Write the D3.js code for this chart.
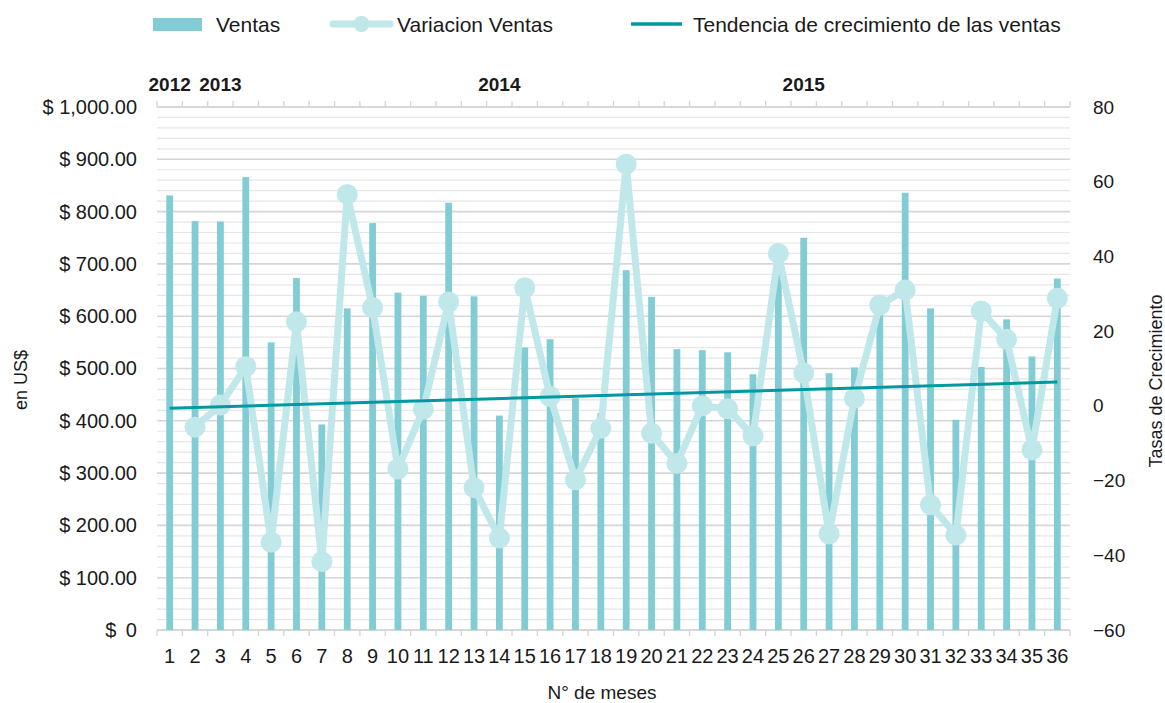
<!DOCTYPE html>
<html>
<head>
<meta charset="utf-8">
<script src="https://cdn.jsdelivr.net/npm/d3@7/dist/d3.min.js"></script>
<style>
  html, body { margin: 0; padding: 0; background: #ffffff; }
  svg text { font-family: "Liberation Sans", Arial, sans-serif; fill: #1a1a1a; }
</style>
</head>
<body>
<svg id="chart" width="1165" height="703"></svg>
<script>
// ---------- data ----------
const months = ["1","2","3","4","5","6","7","8","9","10","11","12","13","14","15","16","17","18",
                "19","20","21","22","23","24","25","26","27","28","29","30","31","32","33","34","35","36"];
const ventas = [831,782,781,866,550,673,393,615,778,645,639,817,638,410,540,556,443,415,
                688,637,537,535,531,489,689,750,491,502,638,836,615,402,503,594,523,672];
const variacion = [null,-5.7,0.2,10.5,-36.5,22.5,-41.7,56.6,26.3,-16.9,-0.9,27.8,-21.9,-35.4,31.6,2.5,-19.8,-6.0,
                   64.7,-7.3,-15.4,0.0,-0.8,-8.0,40.8,8.8,-34.3,2.0,27.0,31.0,-26.5,-34.6,25.4,17.8,-11.8,28.8];
const trendMonths = ["1","36"];
const trendVentas = [424, 474];
const yearMonths = ["1","3","14","26"];
const yearNames = ["2012","2013","2014","2015"];
const leftTicks = [0,100,200,300,400,500,600,700,800,900,1000];
const rightTicks = [-60,-40,-20,0,20,40,60,80];

// ---------- layout ----------
const L = 157, R = 1070, T = 107, B = 630;
const barColor = "#82cdd5", lineColor = "#c0e7e9", trendColor = "#0099a1";
const gridMinor = "#e6e6e6", gridMajor = "#d6d6d6", axisColor = "#d4d4d4";

const svg = d3.select("#chart");
const x = d3.scaleBand().domain(months).range([L, R]).padding(0);
const yL = d3.scaleLinear().domain([0, 1000]).range([B, T]);
const yR = d3.scaleLinear().domain([-60, 80]).range([B, T]);
const cx = m => x(m) + x.bandwidth() / 2;

// gridlines
const minor = d3.range(0, 1001, 20);
svg.append("g").selectAll("line").data(minor).join("line")
  .attr("x1", L).attr("x2", R)
  .attr("y1", d => yL(d)).attr("y2", d => yL(d))
  .attr("stroke", d => d % 100 === 0 ? gridMajor : gridMinor)
  .attr("stroke-width", d => d % 100 === 0 ? 1.6 : 1.2);

// top and bottom category axes (lines + boundary ticks)
const bounds = months.map(m => x(m)).concat([R]);
[[T, -6], [B, 6]].forEach(([yy, dir]) => {
  const g = svg.append("g");
  g.append("line").attr("x1", L).attr("x2", R).attr("y1", yy).attr("y2", yy)
    .attr("stroke", axisColor).attr("stroke-width", 1.6);
  g.selectAll("line.t").data(bounds).join("line").attr("class", "t")
    .attr("x1", d => d).attr("x2", d => d).attr("y1", yy).attr("y2", yy + dir)
    .attr("stroke", axisColor).attr("stroke-width", 1.3);
});

// bars
const bw = 6.8;
svg.append("g").selectAll("rect").data(ventas).join("rect")
  .attr("x", (d, i) => cx(months[i]) - bw / 2)
  .attr("width", bw)
  .attr("y", d => yL(d))
  .attr("height", d => B - yL(d))
  .attr("fill", barColor);

// variation line
const pts = variacion.map((v, i) => ({ m: months[i], v })).filter(d => d.v !== null);
svg.append("path").datum(pts)
  .attr("fill", "none").attr("stroke", lineColor).attr("stroke-width", 7)
  .attr("stroke-linejoin", "round")
  .attr("d", d3.line().x(d => cx(d.m)).y(d => yR(d.v)));
svg.append("g").selectAll("circle").data(pts).join("circle")
  .attr("cx", d => cx(d.m)).attr("cy", d => yR(d.v)).attr("r", 10.5)
  .attr("fill", lineColor);

// trend line
svg.append("path").datum(trendMonths.map((m, i) => ({ m, v: trendVentas[i] })))
  .attr("fill", "none").attr("stroke", trendColor).attr("stroke-width", 3)
  .attr("d", d3.line().x(d => cx(d.m)).y(d => yL(d.v)));

// axes labels
const fmtL = v => v === 0 ? "$\u00a0\u20090" : "$ " + d3.format(",.2f")(v);
const gL = svg.append("g").attr("transform", `translate(${L},0)`)
  .call(d3.axisLeft(yL).tickValues(leftTicks).tickFormat(fmtL).tickSize(0).tickPadding(20));
gL.select(".domain").remove();
gL.selectAll("text").style("font-size", "20px").attr("fill", "#1a1a1a");

const gR = svg.append("g").attr("transform", `translate(${R},0)`)
  .call(d3.axisRight(yR).tickValues(rightTicks).tickFormat(d3.format("d")).tickSize(0).tickPadding(23));
gR.select(".domain").remove();
gR.selectAll("text").style("font-size", "19px").attr("fill", "#1a1a1a");

const gB = svg.append("g").attr("transform", `translate(0,${B})`)
  .call(d3.axisBottom(x).tickSize(0).tickPadding(19));
gB.select(".domain").remove();
gB.selectAll("text").style("font-size", "20px").attr("fill", "#1a1a1a");

// year labels on top
const xYear = d3.scaleOrdinal().domain(yearMonths).range(yearMonths.map(cx));
svg.append("g").selectAll("text").data(yearNames).join("text")
  .attr("x", (d, i) => xYear(yearMonths[i])).attr("y", 84)
  .attr("text-anchor", "middle").attr("dominant-baseline", "central")
  .style("font-size", "19px").style("font-weight", "bold")
  .text(d => d);

// axis titles
svg.append("text").attr("transform", "translate(21,380) rotate(-90)")
  .attr("text-anchor", "middle").attr("dominant-baseline", "central")
  .style("font-size", "18px").text("en US$");
svg.append("text").attr("transform", "translate(1156,381) rotate(-90)")
  .attr("text-anchor", "middle").attr("dominant-baseline", "central")
  .style("font-size", "18px").text("Tasas de Crecimiento");
svg.append("text").attr("x", 602).attr("y", 692)
  .attr("text-anchor", "middle").attr("dominant-baseline", "central")
  .style("font-size", "19px").text("N° de meses");

// legend
const lg = svg.append("g");
lg.append("rect").attr("x", 153).attr("y", 18).attr("width", 49).attr("height", 13).attr("fill", barColor);
lg.append("text").attr("x", 216).attr("y", 24).attr("dominant-baseline", "central")
  .style("font-size", "21px").text("Ventas");
lg.append("line").attr("x1", 333).attr("x2", 390).attr("y1", 24).attr("y2", 24)
  .attr("stroke", lineColor).attr("stroke-width", 7).attr("stroke-linecap", "round");
lg.append("circle").attr("cx", 361.5).attr("cy", 24).attr("r", 8).attr("fill", lineColor);
lg.append("text").attr("x", 397).attr("y", 24).attr("dominant-baseline", "central")
  .style("font-size", "21px").text("Variacion Ventas");
lg.append("line").attr("x1", 631).attr("x2", 682).attr("y1", 24).attr("y2", 24)
  .attr("stroke", trendColor).attr("stroke-width", 3.5);
lg.append("text").attr("x", 693).attr("y", 24).attr("dominant-baseline", "central")
  .style("font-size", "21px").text("Tendencia de crecimiento de las ventas");
</script>
</body>
</html>
